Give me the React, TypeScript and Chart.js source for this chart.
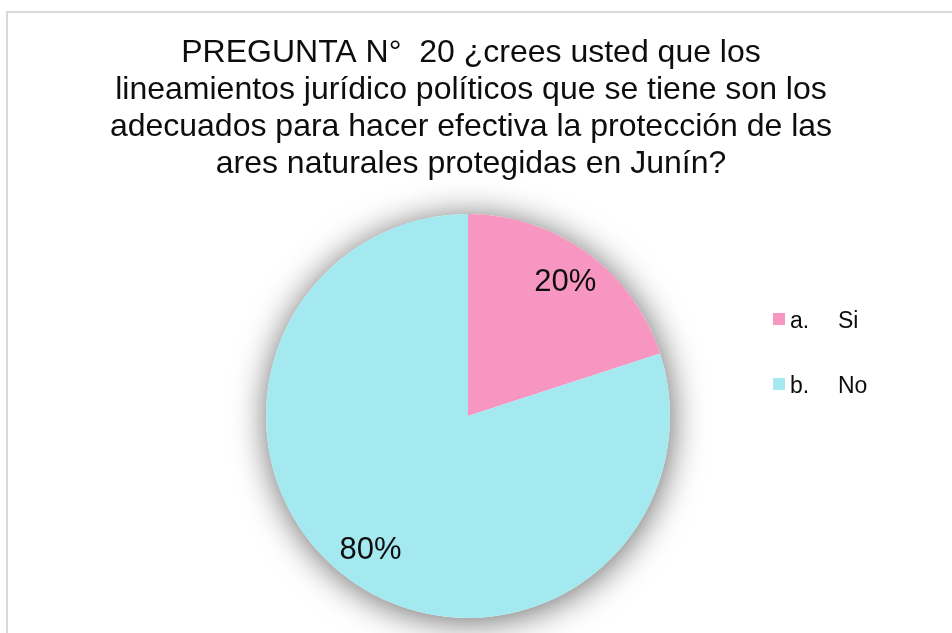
import React, { useEffect, useRef } from "react";
import { Chart, registerables } from "chart.js";

Chart.register(...registerables);

const titleLines = [
  "PREGUNTA N°  20 ¿crees usted que los",
  "lineamientos jurídico políticos que se tiene son los",
  "adecuados para hacer efectiva la protección de las",
  "ares naturales protegidas en Junín?",
];
const legendPrefixes = ["a.", "b."];
const categories = ["Si", "No"];
const values = [20, 80];
const colors = ["#F797C1", "#A4E9EF"];

const FONT = "'Liberation Sans', Arial, sans-serif";

const decorPlugin = {
  id: "decor",
  beforeDraw(chart: any) {
    const ctx = chart.ctx;
    ctx.save();
    ctx.fillStyle = "#ffffff";
    ctx.fillRect(0, 0, chart.width, chart.height);
    ctx.fillStyle = "#D9D9D9";
    ctx.fillRect(6, 11, 2, chart.height);
    ctx.fillRect(6, 11, chart.width, 2);
    // title
    ctx.fillStyle = "#0D0D0D";
    ctx.font = `32px ${FONT}`;
    ctx.textAlign = "center";
    ctx.textBaseline = "alphabetic";
    titleLines.forEach((t, i) => ctx.fillText(t, 471, 62 + i * 37));
    // legend
    ctx.font = `23px ${FONT}`;
    ctx.textAlign = "left";
    categories.forEach((c, i) => {
      const y = 313 + i * 65;
      ctx.fillStyle = colors[i];
      ctx.fillRect(773, y, 12, 12);
      ctx.fillStyle = "#0D0D0D";
      ctx.fillText(legendPrefixes[i], 790, y + 15);
      ctx.fillText(c, 838, y + 15);
    });
    ctx.restore();
  },
  beforeDatasetsDraw(chart: any) {
    const meta = chart.getDatasetMeta(0);
    const arc = meta.data[0];
    if (!arc) return;
    const { x, y, outerRadius } = arc.getProps(["x", "y", "outerRadius"], true);
    const ctx = chart.ctx;
    ctx.save();
    ctx.shadowColor = "rgba(0,0,0,0.6)";
    ctx.shadowBlur = 34;
    ctx.shadowOffsetX = 1;
    ctx.shadowOffsetY = 3;
    ctx.fillStyle = "#ffffff";
    ctx.beginPath();
    ctx.arc(x, y, outerRadius, 0, Math.PI * 2);
    ctx.fill();
    ctx.restore();
  },
  afterDatasetsDraw(chart: any) {
    const meta = chart.getDatasetMeta(0);
    const data = chart.data.datasets[0].data as number[];
    const total = data.reduce((a, b) => a + b, 0);
    const ctx = chart.ctx;
    ctx.save();
    ctx.font = `31px ${FONT}`;
    ctx.fillStyle = "#0D0D0D";
    ctx.textAlign = "center";
    ctx.textBaseline = "middle";
    meta.data.forEach((el: any, i: number) => {
      const { x, y, startAngle, endAngle, outerRadius } = el.getProps(
        ["x", "y", "startAngle", "endAngle", "outerRadius"],
        true
      );
      const mid = (startAngle + endAngle) / 2;
      const r = outerRadius * 0.82;
      const pct = Math.round((data[i] / total) * 100) + "%";
      ctx.fillText(pct, x + Math.cos(mid) * r, y + Math.sin(mid) * r);
    });
    ctx.restore();
  },
};

export default function App() {
  const ref = useRef<HTMLCanvasElement>(null);
  useEffect(() => {
    if (!ref.current) return;
    const chart = new Chart(ref.current, {
      type: "pie",
      data: {
        labels: categories,
        datasets: [
          {
            data: values,
            backgroundColor: colors,
            borderWidth: 0,
          },
        ],
      },
      options: {
        responsive: false,
        animation: false,
        layout: { padding: { left: 266, right: 282, top: 214, bottom: 15 } },
        plugins: {
          legend: { display: false },
          title: { display: false },
          tooltip: { enabled: false },
        },
      },
      plugins: [decorPlugin],
    });
    return () => chart.destroy();
  }, []);
  return (
    <div style={{ position: "fixed", left: 0, top: 0, width: 952, height: 633, background: "#fff" }}>
      <canvas ref={ref} width={952} height={633} style={{ display: "block" }} />
    </div>
  );
}
